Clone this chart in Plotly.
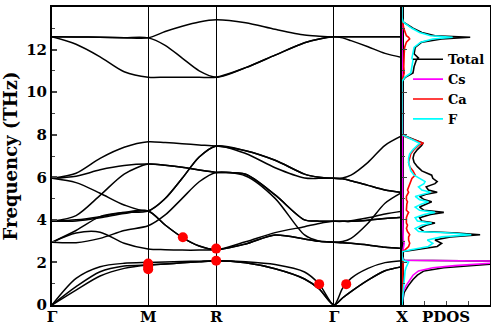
import numpy as np
import plotly.graph_objects as go

# path through the Brillouin zone
sym_labels = ['Γ', 'M', 'R', 'Γ', 'X']
seg_len = [0.7071, 0.5, 0.8660, 0.5]
# fractions along each segment where the bands were read
seg_frac = [
    [0, 0.25, 0.5, 0.75, 1],
    [0.25, 0.5, 0.75, 1],
    [0.25, 0.5, 0.75, 0.875, 1],
    [0.125, 0.25, 0.5, 0.75, 1],
]

# phonon branches (THz), 19 values each: G-M | M-R | R-G | G-X
acou_1 = [0, 1.25, 1.8, 1.96, 2.0, 2.02, 2.04, 2.06, 2.08, 2.03, 1.9, 1.55, 0.98, 0, 0.78, 1.25, 1.72, 1.99, 2.08]
acou_2 = [0, 0.86, 1.56, 1.83, 1.88, 1.93, 1.98, 2.03, 2.08, 1.98, 1.7, 1.22, 0.75, 0, 0.33, 0.63, 1.17, 1.61, 1.8]
acou_3 = [0, 0.7, 1.36, 1.72, 1.88, 1.93, 1.98, 2.03, 2.08, 1.98, 1.7, 1.22, 0.75, 0, 0.33, 0.63, 1.17, 1.61, 1.8]
opt_a = [5.95, 6.19, 6.89, 7.41, 7.67, 7.63, 7.58, 7.52, 7.47, 7.25, 6.8, 6.15, 6.0, 5.95, 5.97, 6.1, 6.7, 7.5, 7.95]
opt_b = [5.95, 6.05, 6.35, 6.55, 6.62, 6.56, 6.47, 6.34, 6.23, 6.14, 5.17, 4.0, 3.94, 3.93, 3.93, 3.93, 3.98, 4.06, 4.12]
opt_c = [5.95, 5.75, 5.25, 4.7, 4.42, 5.0, 5.95, 6.95, 7.47, 7.12, 6.45, 5.97, 5.95, 5.95, 5.93, 5.84, 5.62, 5.4, 5.29]
opt_d = [3.93, 4.2, 5.15, 6.15, 6.62, 6.56, 6.47, 6.34, 6.23, 6.14, 5.17, 4.0, 3.94, 3.93, 3.93, 3.96, 4.1, 4.28, 4.41]
opt_e = [3.93, 4.0, 4.15, 4.35, 4.42, 5.0, 5.95, 6.95, 7.47, 7.25, 6.8, 6.15, 6.0, 5.95, 5.93, 5.84, 5.62, 5.4, 5.29]
opt_f = [3.93, 3.95, 4.1, 4.3, 4.42, 3.76, 3.18, 2.77, 2.6, 2.97, 3.4, 3.68, 3.83, 3.93, 3.93, 3.93, 3.98, 4.06, 4.12]
opt_g = [2.95, 3.5, 4.15, 4.35, 4.42, 3.76, 3.18, 2.77, 2.6, 2.87, 3.29, 3.1, 2.99, 2.95, 2.93, 2.9, 2.82, 2.71, 2.66]
opt_h = [2.95, 2.93, 3.13, 3.5, 3.72, 4.23, 5.01, 5.79, 6.23, 6.06, 5.01, 3.29, 3.0, 2.95, 2.98, 3.13, 3.84, 4.78, 5.29]
opt_i = [2.95, 3.38, 3.42, 2.9, 2.63, 2.6, 2.58, 2.58, 2.6, 2.87, 3.29, 3.1, 2.99, 2.95, 2.93, 2.9, 2.82, 2.71, 2.66]
up_1 = [12.6, 12.59, 12.58, 12.56, 12.55, 12.85, 13.1, 13.3, 13.4, 13.26, 12.95, 12.68, 12.63, 12.6, 12.6, 12.6, 12.6, 12.6, 12.6]
up_2 = [12.6, 12.59, 12.58, 12.56, 12.55, 12.2, 11.6, 11.0, 10.7, 11.15, 11.74, 12.32, 12.5, 12.6, 12.55, 12.42, 12.13, 11.82, 11.63]
up_3 = [12.6, 12.25, 11.66, 10.96, 10.7, 10.7, 10.7, 10.7, 10.7, 11.15, 11.74, 12.32, 12.5, 12.6, 12.6, 12.6, 12.6, 12.6, 12.6]

bands = [acou_1, acou_2, acou_3, opt_a, opt_b, opt_c, opt_d, opt_e, opt_f,
         opt_g, opt_h, opt_i, up_1, up_2, up_3]

# marked modes
dot_k = [0.7071, 0.7071, 0.7071, 0.9621, 1.2071, 1.2071, 1.9640, 2.1631]
dot_f = [1.95, 1.8, 1.68, 3.18, 2.65, 2.08, 0.98, 0.98]

# projected DOS
pdos_freq = [0, 0.3, 0.6, 0.9, 1.2, 1.4, 1.6, 1.75, 1.85, 1.95, 2.02, 2.06, 2.1, 2.3, 2.5,
             2.6, 2.75, 2.9, 3.05, 3.2, 3.3, 3.38, 3.45, 3.6, 3.75, 3.85, 3.95, 4.1, 4.25, 4.35,
             4.45, 4.6, 4.75, 4.85, 4.95, 5.1, 5.2, 5.3, 5.4, 5.55, 5.7, 5.8, 5.95, 6.1, 6.3,
             6.5, 6.7, 6.9, 7.1, 7.3, 7.5, 7.6, 7.75, 7.9, 8.0, 8.2, 10.5, 10.7, 10.9, 11.2,
             11.5, 11.6, 11.8, 12.1, 12.35, 12.5, 12.58, 12.65, 12.8, 13.0, 13.3, 13.5, 14]
dos_total = [0, 0.04, 0.1, 0.28, 0.5, 0.7, 1.0, 1.9, 3.3, 4.4, 5.0, 5.0, 0.1, 0, 0,
             0.6, 1.6, 1.8, 1.5, 2.2, 3.55, 2.5, 1.0, 0.8, 1.1, 1.5, 0.9, 0.8, 1.3, 1.9,
             1.0, 0.8, 1.1, 1.35, 1.0, 0.8, 1.1, 1.6, 1.2, 1.1, 1.5, 1.6, 1.4, 1.35, 0.9,
             0.7, 0.55, 0.5, 0.55, 0.7, 0.9, 0.95, 0.6, 0.2, 0, 0, 0, 0.15, 0.5, 0.55,
             0.65, 0.75, 0.55, 0.6, 0.9, 1.8, 3.1, 1.5, 0.9, 0.5, 0.05, 0, 0]
dos_cs = [0, 0.02, 0.05, 0.18, 0.35, 0.5, 0.75, 1.4, 2.4, 3.5, 4.8, 4.8, 0.05, 0, 0,
          0.05, 0.08, 0.1, 0.06, 0.05, 0.05, 0.05, 0.04, 0.04, 0.04, 0.04, 0.03, 0.03, 0.03, 0.03,
          0.03, 0.03, 0.03, 0.03, 0.03, 0.02, 0.02, 0.02, 0.02, 0.02, 0.02, 0.02, 0.02, 0.02, 0.02,
          0.02, 0.02, 0.02, 0.02, 0.02, 0.02, 0.02, 0.02, 0.01, 0, 0, 0, 0.01, 0.01, 0.01,
          0.01, 0.01, 0.01, 0.01, 0.01, 0.02, 0.02, 0.02, 0.01, 0.01, 0, 0, 0]
dos_ca = [0, 0.01, 0.02, 0.03, 0.04, 0.05, 0.05, 0.06, 0.06, 0.07, 0.07, 0.05, 0.02, 0, 0,
          0.15, 0.3, 0.35, 0.3, 0.3, 0.35, 0.3, 0.25, 0.2, 0.25, 0.2, 0.2, 0.2, 0.25, 0.3,
          0.2, 0.2, 0.22, 0.25, 0.2, 0.2, 0.25, 0.3, 0.25, 0.3, 0.35, 0.4, 0.45, 0.6, 0.5,
          0.35, 0.3, 0.35, 0.4, 0.55, 0.75, 0.97, 0.6, 0.15, 0, 0, 0, 0.05, 0.1, 0.08,
          0.08, 0.1, 0.1, 0.12, 0.2, 0.35, 0.3, 0.2, 0.15, 0.08, 0.03, 0, 0]
dos_f = [0, 0.02, 0.04, 0.07, 0.1, 0.12, 0.14, 0.18, 0.22, 0.28, 0.3, 0.2, 0.05, 0, 0,
         0.4, 1.2, 1.4, 1.15, 1.8, 3.15, 2.2, 0.75, 0.6, 0.9, 1.35, 0.7, 0.6, 1.0, 1.5,
         0.8, 0.6, 0.9, 1.2, 0.8, 0.6, 0.9, 1.3, 0.9, 0.75, 1.0, 1.05, 0.8, 0.55, 0.4,
         0.35, 0.3, 0.3, 0.35, 0.5, 0.7, 0.8, 0.5, 0.15, 0, 0, 0, 0.12, 0.4, 0.45,
         0.5, 0.45, 0.5, 0.55, 0.85, 1.4, 2.3, 1.3, 0.8, 0.45, 0.05, 0, 0]

sym_k = np.concatenate([[0], np.cumsum(seg_len)])
k = []
for i, fr in enumerate(seg_frac):
    k += [sym_k[i] + f * seg_len[i] for f in fr]

fig = go.Figure()

for b in bands:
    fig.add_trace(go.Scatter(x=k, y=b, mode='lines', line=dict(color='black', width=1.5, shape='spline', smoothing=0.8),
                             showlegend=False, hoverinfo='skip'))

fig.add_trace(go.Scatter(x=dot_k, y=dot_f, mode='markers', marker=dict(color='#ff0000', size=10),
                         showlegend=False))

pdos = [('Total', dos_total, 'black'), ('Cs', dos_cs, '#ff00ff'),
        ('Ca', dos_ca, '#ff0000'), ('F', dos_f, '#00ffff')]
for name, vals, col in pdos:
    fig.add_trace(go.Scatter(x=vals, y=pdos_freq, mode='lines', name=name, xaxis='x2', yaxis='y2',
                             line=dict(color=col, width=1.6)))

dom = 350 / 438
axis_style = dict(showline=True, linecolor='black', linewidth=2, mirror=True, zeroline=False,
                  automargin=False)

fig.update_layout(
    width=491, height=327,
    margin=dict(l=52, r=1, t=7, b=22),
    plot_bgcolor='white', paper_bgcolor='white',
    font=dict(family='DejaVu Serif', size=15, color='black', weight='bold'),
    xaxis=dict(domain=[0, dom], range=[0, sym_k[-1]], tickvals=sym_k, ticktext=sym_labels,
               ticks='', ticklabelstandoff=-3, showgrid=True, gridcolor='black', gridwidth=1,
               **axis_style),
    yaxis=dict(range=[0, 14], dtick=2, ticks='inside', ticklen=5, tickwidth=1.5,
               minor=dict(ticks='inside', dtick=1, ticklen=3, tickwidth=1),
               showgrid=False, tickfont=dict(size=15),
               title=dict(text='Frequency (THz)', font=dict(size=18), standoff=5), **axis_style),
    xaxis2=dict(domain=[dom, 1], range=[0, 4], anchor='y2', tickvals=[1, 2, 3], ticks='inside',
                ticklen=4, showticklabels=False, showgrid=False, **axis_style),
    yaxis2=dict(range=[0, 14], anchor='x2', matches='y', dtick=2, ticks='inside', ticklen=5,
                minor=dict(ticks='inside', dtick=1, ticklen=3), showticklabels=False,
                showgrid=False, **axis_style),
    legend=dict(x=1.0, y=0.875, xanchor='right', yanchor='top', bgcolor='rgba(0,0,0,0)',
                font=dict(size=13), tracegroupgap=0),
    annotations=[dict(text='PDOS', x=2, xref='x2', y=0, yref='paper', yanchor='top',
                      yshift=-1, showarrow=False, font=dict(size=15))],
)

fig.write_html("out.html", config={'displayModeBar': False},
               post_script="document.body.style.margin='0';document.body.style.overflow='hidden';")
